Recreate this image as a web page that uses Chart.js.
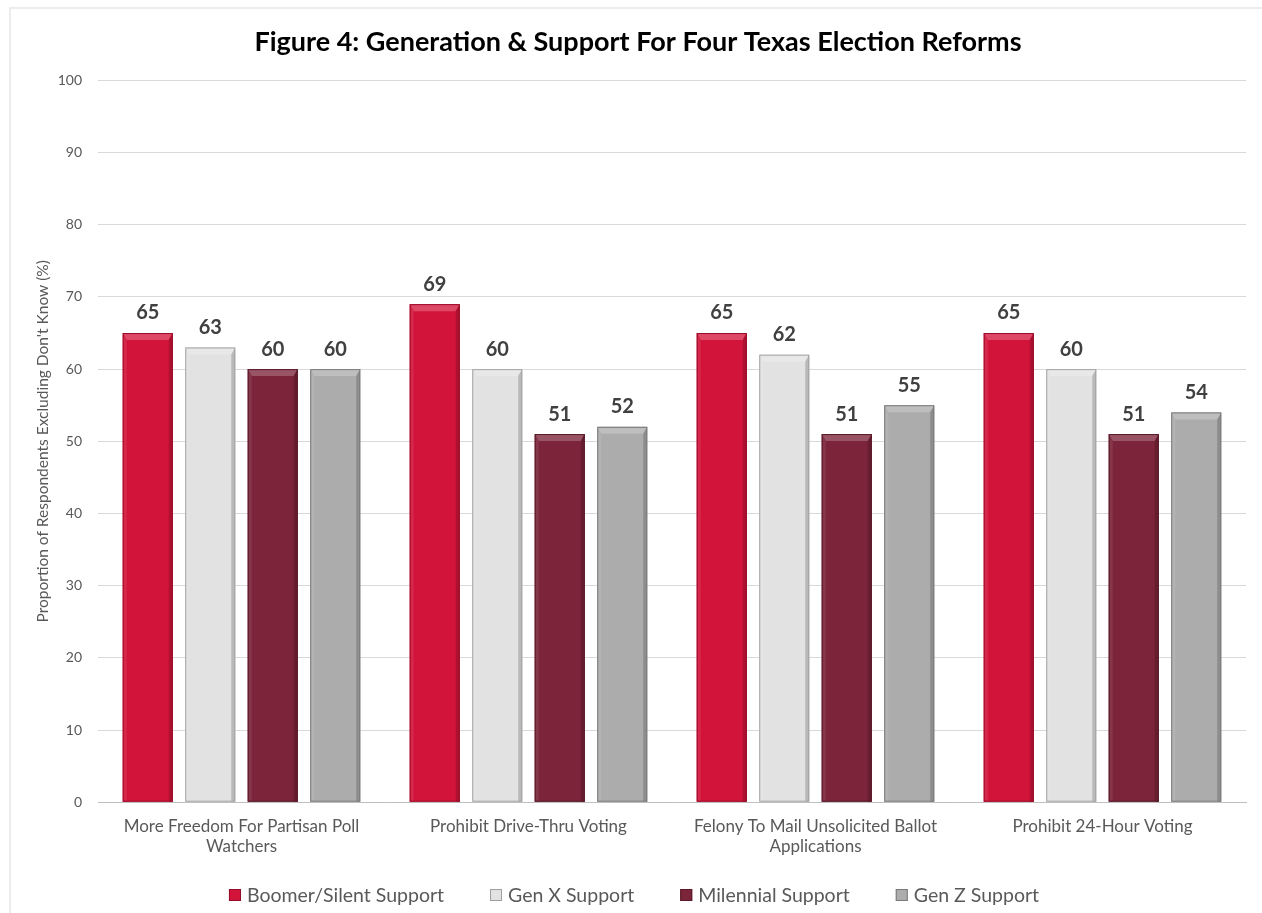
<!DOCTYPE html>
<html>
<head>
<meta charset="utf-8">
<script src="https://cdn.jsdelivr.net/npm/chart.js@4.4.1/dist/chart.umd.min.js"></script>
<style>
  html, body { margin: 0; padding: 0; background: #ffffff; }
  #wrap { position: relative; width: 1262px; height: 913px; }
  #frame { position: absolute; left: 9px; top: 7px; right: 0; bottom: 0;
           border-left: 2px solid #ececec; border-top: 2px solid #ececec; }
  canvas { position: absolute; left: 0; top: 0; }
</style>
</head>
<body>
<div id="wrap">
  <div id="frame"></div>
  <canvas id="chart" width="1262" height="913"></canvas>
</div>
<script>
// Reform categories (multi-line axis labels)
const categories = [
  ['More Freedom For Partisan Poll', 'Watchers'],
  'Prohibit Drive-Thru Voting',
  ['Felony To Mail Unsolicited Ballot', 'Applications'],
  'Prohibit 24-Hour Voting'
];

// Support by generation (%)
const boomerSilent = [65, 69, 65, 65];
const genX         = [63, 60, 62, 60];
const millennial   = [60, 51, 51, 51];
const genZ         = [60, 52, 55, 54];

const seriesNames = ['Boomer/Silent Support', 'Gen X Support', 'Milennial Support', 'Gen Z Support'];
const yTicks = [0, 10, 20, 30, 40, 50, 60, 70, 80, 90, 100];

const FONT = 'Lato, "Open Sans", "Liberation Sans", sans-serif';

// Shade helper for the bevelled bar look
function shade(hex, amt) {
  const n = parseInt(hex.slice(1), 16);
  let r = (n >> 16) & 255, g = (n >> 8) & 255, b = n & 255;
  const f = v => Math.max(0, Math.min(255, Math.round(amt >= 0 ? v + (255 - v) * amt : v * (1 + amt))));
  return `rgb(${f(r)},${f(g)},${f(b)})`;
}

// Draws a soft bevel on each bar (lighter cap, darker right side)
const bevelPlugin = {
  id: 'bevel',
  afterDatasetsDraw(chart) {
    const ctx = chart.ctx;
    chart.data.datasets.forEach((ds, di) => {
      const meta = chart.getDatasetMeta(di);
      const base = ds.backgroundColor;
      meta.data.forEach(bar => {
        const w = bar.width, x0 = bar.x - w / 2, x1 = bar.x + w / 2;
        const top = bar.y, bot = bar.base, cap = 7, side = 4;
        ctx.save();
        ctx.beginPath();
        ctx.moveTo(x0, top); ctx.lineTo(x1, top);
        ctx.lineTo(x1 - side, top + cap); ctx.lineTo(x0 + side, top + cap);
        ctx.closePath();
        ctx.fillStyle = shade(base, 0.22);
        ctx.fill();
        ctx.beginPath();
        ctx.moveTo(x0, top); ctx.lineTo(x0 + side, top + cap);
        ctx.lineTo(x0 + side, bot); ctx.lineTo(x0, bot);
        ctx.closePath();
        ctx.fillStyle = shade(base, 0.08);
        ctx.fill();
        ctx.beginPath();
        ctx.moveTo(x1, top); ctx.lineTo(x1 - side, top + cap);
        ctx.lineTo(x1 - side, bot); ctx.lineTo(x1, bot);
        ctx.closePath();
        ctx.fillStyle = shade(base, -0.18);
        ctx.fill();
        ctx.strokeStyle = shade(base, -0.28);
        ctx.lineWidth = 1;
        ctx.strokeRect(x0 + 0.5, top + 0.5, w - 1, bot - top - 1);
        ctx.restore();
      });
    });
  }
};

// Value labels above each bar
const valueLabels = {
  id: 'valueLabels',
  afterDatasetsDraw(chart) {
    const ctx = chart.ctx;
    ctx.save();
    ctx.font = `bold 20px ${FONT}`;
    ctx.fillStyle = '#404040';
    ctx.textAlign = 'center';
    ctx.textBaseline = 'bottom';
    chart.data.datasets.forEach((ds, di) => {
      chart.getDatasetMeta(di).data.forEach((bar, i) => {
        ctx.fillText(String(ds.data[i]), bar.x, bar.y - 10);
      });
    });
    ctx.restore();
  }
};

// Bottom legend row with square swatches
const legendRow = {
  id: 'legendRow',
  afterDraw(chart) {
    const ctx = chart.ctx;
    const fontSize = 19.5, box = 12, gap = 6, spacing = 46;
    ctx.save();
    ctx.font = `${fontSize}px ${FONT}`;
    const items = chart.data.datasets.map(ds => ({
      text: ds.label, color: ds.backgroundColor,
      w: box + gap + ctx.measureText(ds.label).width
    }));
    const total = items.reduce((s, it) => s + it.w, 0) + spacing * (items.length - 1);
    let x = (chart.width - total) / 2 + 3;
    const y = 895;
    items.forEach(it => {
      ctx.fillStyle = it.color;
      ctx.fillRect(x, y - box / 2, box, box);
      ctx.strokeStyle = shade(it.color, -0.3);
      ctx.lineWidth = 1;
      ctx.strokeRect(x + 0.5, y - box / 2 + 0.5, box - 1, box - 1);
      ctx.fillStyle = '#595959';
      ctx.textAlign = 'left';
      ctx.textBaseline = 'middle';
      ctx.fillText(it.text, x + box + gap, y + 1);
      x += it.w + spacing;
    });
    ctx.restore();
  }
};

const colors = ['#d3143a', '#e2e2e2', '#7c2439', '#acacac'];
const values = [boomerSilent, genX, millennial, genZ];

new Chart(document.getElementById('chart'), {
  type: 'bar',
  data: {
    labels: categories,
    datasets: seriesNames.map((name, i) => ({
      label: name,
      data: values[i],
      backgroundColor: colors[i],
      borderWidth: 0,
      categoryPercentage: 0.871,
      barPercentage: 0.8
    }))
  },
  options: {
    responsive: false,
    animation: false,
    layout: { padding: { left: 30, right: 16, top: 8, bottom: 42 } },
    plugins: {
      title: {
        display: true,
        text: 'Figure 4: Generation & Support For Four Texas Election Reforms',
        color: '#000000',
        font: { family: FONT, size: 27, weight: 'bold' },
        padding: { top: 18, bottom: 22 }
      },
      legend: { display: false },
      tooltip: { enabled: false }
    },
    scales: {
      x: {
        grid: { display: false, drawTicks: false },
        border: { color: '#bfbfbf', width: 1 },
        ticks: { color: '#595959', font: { family: FONT, size: 17 }, padding: 14, maxRotation: 0 }
      },
      y: {
        min: 0, max: 100,
        afterBuildTicks(axis) { axis.ticks = yTicks.map(v => ({ value: v })); },
        afterFit(axis) { axis.width = 68; },
        grid: { color: '#d9d9d9', drawTicks: false },
        border: { display: false },
        ticks: { color: '#595959', font: { family: FONT, size: 14 }, padding: 16 },
        title: {
          display: true,
          text: "Proportion of Respondents Excluding Don't Know (%)",
          color: '#595959',
          font: { family: FONT, size: 15.5 },
          padding: { top: 4, bottom: 4 }
        }
      }
    }
  },
  plugins: [bevelPlugin, valueLabels, legendRow]
});
</script>
</body>
</html>
